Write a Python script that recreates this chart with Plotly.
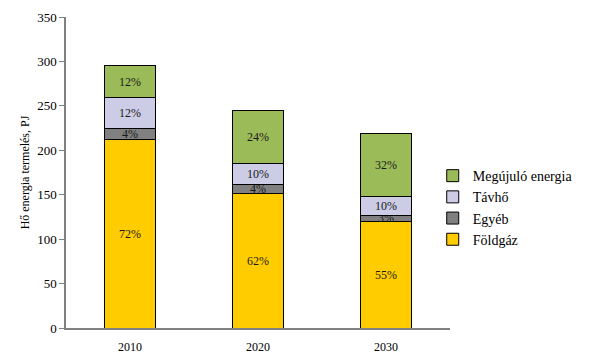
import plotly.graph_objects as go

years = ["2010", "2020", "2030"]
series_names = ["Földgáz", "Egyéb", "Távhő", "Megújuló energia"]
foldgaz = [212, 151.5, 120]
egyeb = [12, 10, 7]
tavho = [35, 24, 21]
megujulo = [36, 59, 71]
foldgaz_lbl = ["72%", "62%", "55%"]
egyeb_lbl = ["4%", "4%", "3%"]
tavho_lbl = ["12%", "10%", "10%"]
megujulo_lbl = ["12%", "24%", "32%"]
colors = ["#FFCC00", "#808080", "#CCCCE6", "#9BBB59"]

values = [foldgaz, egyeb, tavho, megujulo]
labels = [foldgaz_lbl, egyeb_lbl, tavho_lbl, megujulo_lbl]

FONT = "Times New Roman"

fig = go.Figure()
for name, vals, lbl, col in zip(series_names, values, labels, colors):
    fig.add_trace(go.Bar(
        x=years, y=vals, name=name, text=lbl,
        textposition="inside", insidetextanchor="middle", textangle=0,
        constraintext="none",
        textfont=dict(family=FONT, size=12, color="#1a1a1a"),
        marker=dict(color=col, line=dict(color="#000000", width=1)),
        width=0.4,
    ))

fig.update_layout(
    barmode="stack",
    width=581, height=350,
    margin=dict(l=58, r=139, t=9, b=30, autoexpand=False),
    paper_bgcolor="white", plot_bgcolor="white",
    font=dict(family=FONT, size=12, color="#000000"),
    showlegend=True,
    legend=dict(
        x=0.955, y=0.54, xanchor="left", yanchor="top",
        traceorder="reversed",
        font=dict(family=FONT, size=14, color="#000000"),
        bgcolor="rgba(0,0,0,0)",
        itemwidth=30,
    ),
    xaxis=dict(
        showline=True, linecolor="#808080", linewidth=1.5,
        ticks="", showgrid=False, ticklabelstandoff=7,
        tickfont=dict(family=FONT, size=12),
    ),
    yaxis=dict(
        range=[0, 350], dtick=50,
        showline=True, linecolor="#808080", linewidth=1.5,
        ticks="outside", ticklen=5, tickcolor="#808080",
        showgrid=False, zeroline=False,
        tickfont=dict(family=FONT, size=13),
        title=dict(text="Hő energia termelés, PJ", font=dict(family=FONT, size=12), standoff=5),
    ),
)

fig.write_html("out.html")
